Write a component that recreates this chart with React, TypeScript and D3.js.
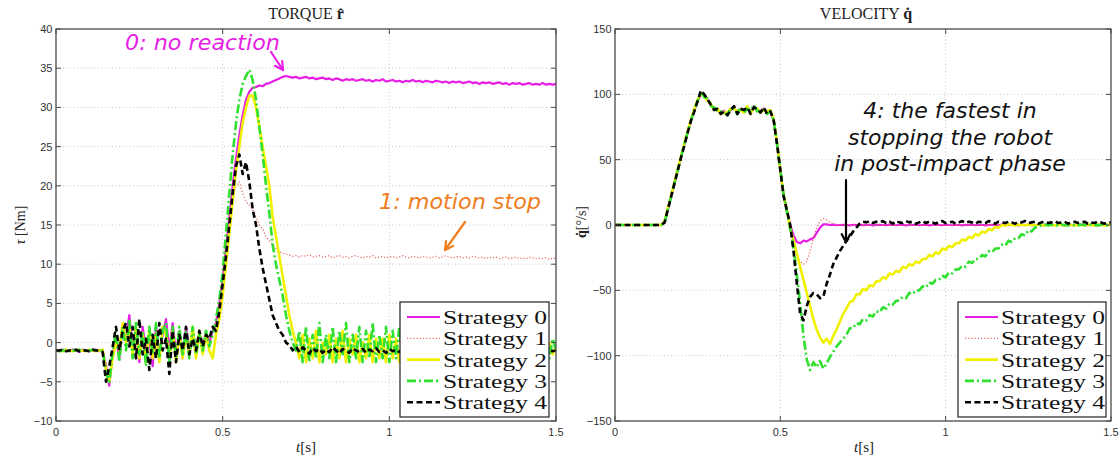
import React from "react";
import * as d3 from "d3";

// ---------- data ----------
const SAMPLE_DT = 0.01; // seconds between samples (151 samples: 0 .. 1.5 s)
const X_TICKS = [0, 0.5, 1, 1.5];
const TORQUE_TICKS = [-10, -5, 0, 5, 10, 15, 20, 25, 30, 35, 40];
const VELOCITY_TICKS = [-150, -100, -50, 0, 50, 100, 150];
const STRATEGIES = ["Strategy 0", "Strategy 1", "Strategy 2", "Strategy 3", "Strategy 4"];

// Torque [Nm]
const torqueS0 = [
  -1.0, -1.1, -0.9, -1.0, -1.1, -0.9, -1.0, -1.2, -0.9, -1.0,
  -1.1, -1.0, -0.9, -1.1, -1.0, -3.0, -5.5, -1.5, 0.5, -2.0,
  2.0, 0.5, 3.5, -1.0, 1.5, -2.5, 2.0, -1.0, 0.5, -3.0,
  2.0, -1.5, 1.0, 3.0, -1.0, 2.5, -1.5, 1.5, -2.0, 2.0,
  -1.0, 1.5, -1.0, 1.0, -0.5, 1.0, 0.0, 1.5, 2.5, 5.0,
  8.0, 12.0, 16.0, 20.0, 23.5, 26.5, 29.0, 31.0, 32.0, 32.5,
  32.6, 32.8, 32.7, 33.0, 33.1, 33.3, 33.5, 33.7, 33.9, 34.0,
  33.9, 33.8, 33.9, 33.7, 33.8, 33.9, 33.7, 33.8, 33.6, 33.7,
  33.8, 33.6, 33.7, 33.5, 33.7, 33.6, 33.4, 33.6, 33.5, 33.6,
  33.4, 33.5, 33.6, 33.4, 33.5, 33.3, 33.5, 33.4, 33.6, 33.3,
  33.4, 33.5, 33.3, 33.4, 33.2, 33.4, 33.3, 33.5, 33.3, 33.4,
  33.2, 33.4, 33.3, 33.2, 33.4, 33.3, 33.2, 33.3, 33.1, 33.3,
  33.2, 33.3, 33.1, 33.2, 33.3, 33.1, 33.2, 33.0, 33.2, 33.1,
  33.2, 33.0, 33.1, 33.2, 33.0, 33.1, 32.9, 33.1, 33.0, 33.1,
  32.9, 33.0, 33.1, 32.9, 33.0, 32.9, 33.1, 32.9, 33.0, 32.9,
  33.0,
];
const torqueS1 = [
  -1.0, -0.9, -1.1, -1.0, -0.9, -1.1, -1.0, -0.9, -1.1, -1.0,
  -1.0, -1.1, -0.9, -1.0, -1.1, -2.5, -4.5, -1.0, 1.0, -1.5,
  1.5, 1.0, 2.5, -0.5, 1.0, -2.0, 1.5, -0.5, 1.0, -2.0,
  1.5, -1.0, 1.5, 2.0, -0.5, 2.0, -1.0, 1.0, -1.5, 1.5,
  -0.5, 1.0, -1.0, 1.5, 0.0, 0.5, 0.5, 1.5, 2.5, 5.0,
  8.5, 12.5, 16.0, 18.5, 20.0, 20.5, 19.0, 18.0, 17.5, 17.0,
  16.0, 15.0, 14.5, 13.5, 13.0, 12.5, 12.0, 11.6, 11.4, 11.3,
  11.2, 11.0, 11.1, 10.9, 11.1, 11.0, 11.2, 10.9, 11.0, 11.1,
  10.9, 11.0, 11.1, 10.8, 11.0, 11.1, 10.9, 11.0, 10.8, 11.0,
  11.1, 10.9, 10.8, 11.0, 10.9, 11.1, 10.8, 10.9, 11.0, 10.8,
  10.9, 11.0, 10.8, 10.9, 11.1, 10.9, 10.8, 11.0, 10.9, 10.8,
  11.0, 10.9, 10.8, 10.9, 11.0, 10.8, 10.9, 11.1, 10.9, 10.8,
  10.9, 11.0, 10.8, 10.9, 10.8, 11.0, 10.9, 10.8, 10.9, 10.7,
  10.9, 10.8, 10.9, 10.7, 10.8, 10.9, 10.7, 10.8, 10.9, 10.7,
  10.8, 10.7, 10.9, 10.8, 10.7, 10.8, 10.7, 10.8, 10.6, 10.8,
  10.7,
];
const torqueS2 = [
  -1.0, -1.0, -1.1, -0.9, -1.0, -1.1, -0.9, -1.0, -1.0, -1.1,
  -0.9, -1.0, -1.1, -1.0, -0.9, -3.5, -5.0, -2.0, 0.0, -1.0,
  2.5, 0.0, 2.0, -1.5, 2.0, -2.0, 1.0, -2.5, 1.5, -2.0,
  1.0, -2.5, 2.0, 1.0, -2.0, 1.5, -2.5, 1.0, -2.0, 1.0,
  -1.5, 2.0, -2.0, 1.5, -1.5, 1.0, -1.0, -2.0, 1.0, 3.0,
  6.0, 10.0, 14.0, 18.0, 22.0, 25.0, 28.0, 30.0, 31.5, 31.5,
  30.0, 27.5, 25.0, 22.5, 20.0, 16.0, 13.5, 11.0, 8.5, 6.0,
  3.5, 1.5, 0.0, -2.0, 1.0, -2.5, 0.5, -2.0, 1.5, -2.5,
  0.0, -1.5, 1.0, -2.5, 0.5, -2.0, 1.5, -2.5, 0.5, -1.5,
  1.0, -2.5, 0.0, -2.0, 1.0, -2.5, 0.5, -2.0, 0.5, -2.5,
  1.0, -2.0, 0.5, -2.5, 0.0, -2.0, 1.0, -2.5, 0.5, -1.5,
  0.5, -2.5, 1.0, -2.0, 0.0, -2.5, 0.5, -2.0, 1.0, -2.0,
  0.0, -2.5, 0.5, -2.0, 0.5, -2.5, 0.0, -1.5, 0.5, -2.5,
  0.5, -2.0, 0.0, -2.0, 0.5, -2.5, 0.5, -2.0, 0.0, -2.0,
  0.5, -2.5, 0.0, -2.0, 0.5, -2.0, 0.0, -1.5, 0.0, -1.5,
  -0.5,
];
const torqueS3 = [
  -1.0, -1.1, -1.0, -0.9, -1.1, -1.0, -1.0, -0.9, -1.1, -1.0,
  -1.0, -0.9, -1.0, -1.1, -1.0, -4.0, -5.0, -1.0, 1.5, -2.5,
  2.0, -1.0, 3.0, -2.0, 2.5, -1.5, 1.5, -3.0, 2.0, -1.5,
  2.5, -2.0, 1.5, 2.5, -2.5, 2.0, -2.0, 2.0, -1.5, 1.5,
  -2.0, 2.0, -1.5, 1.0, -1.0, 1.5, -0.5, 1.0, 3.0, 5.5,
  9.0, 14.0, 19.0, 24.0, 28.0, 31.0, 33.0, 34.0, 34.8, 33.5,
  31.0, 27.5, 24.0, 20.0, 16.5, 12.5, 10.0, 8.0, 6.0, 3.5,
  1.5, 0.0, -1.0, 1.5, -2.5, 2.0, -2.5, 1.0, -2.0, 2.5,
  -2.5, 1.0, -2.0, 2.0, -2.5, 1.5, -1.5, 2.5, -2.5, 1.0,
  -2.0, 2.0, -2.5, 1.5, -2.0, 2.5, -2.5, 1.0, -2.0, 2.0,
  -2.5, 1.5, -2.0, 2.0, -2.5, 1.0, -2.0, 2.5, -2.0, 1.5,
  -2.5, 2.0, -2.0, 1.0, -2.5, 2.0, -1.5, 1.5, -2.5, 2.0,
  -2.0, 1.5, -2.5, 1.0, -2.0, 2.0, -2.5, 1.5, -2.0, 1.0,
  -2.5, 1.5, -2.0, 2.0, -2.0, 1.0, -2.5, 1.5, -2.0, 1.0,
  -2.0, 1.5, -2.5, 1.0, -2.0, 1.5, -1.5, 1.0, -2.0, 0.5,
  -1.0,
];
const torqueS4 = [
  -1.0, -1.0, -0.9, -1.1, -1.0, -1.0, -0.9, -1.1, -1.0, -1.0,
  -1.1, -0.9, -1.0, -1.0, -1.2, -5.0, -3.0, -0.5, 2.0, -1.0,
  1.5, 2.5, -0.5, 2.0, -2.0, 3.0, -1.5, 0.5, -3.5, 1.0,
  -2.0, 2.5, -1.0, 0.5, -4.0, 1.5, -2.5, 1.0, -1.0, 2.0,
  -1.5, 0.5, -1.0, 1.5, -0.5, 1.0, 0.5, 2.0, 1.5, 4.0,
  7.5, 11.0, 15.0, 19.0, 22.5, 24.0, 21.5, 23.0, 20.5, 17.0,
  15.0, 12.0, 9.5, 7.5, 5.5, 3.5, 2.5, 1.5, 1.0, 0.0,
  -0.3, -1.0, -0.5, -1.2, -0.6, -1.0, -1.4, -0.7, -1.1, -0.8,
  -1.3, -0.9, -1.2, -0.6, -1.0, -1.4, -0.8, -1.1, -1.3, -0.7,
  -1.0, -1.2, -0.8, -1.3, -0.9, -1.1, -0.7, -1.2, -1.0, -1.3,
  -0.8, -1.1, -0.9, -1.2, -0.7, -1.0, -1.3, -0.9, -1.1, -0.8,
  -1.2, -0.9, -1.1, -0.7, -1.0, -1.2, -0.9, -1.1, -0.8, -1.2,
  -1.0, -0.8, -1.1, -0.9, -1.2, -1.0, -0.8, -1.1, -0.9, -1.0,
  -1.2, -0.8, -1.0, -1.1, -0.9, -1.2, -0.8, -1.0, -1.1, -0.9,
  -1.0, -0.8, -1.1, -0.9, -1.0, -1.2, -0.8, -1.0, -0.9, -1.1,
  -1.0,
];

// Velocity [deg/s]
const velocityS0 = [
  0, 0, 0, 0, 0, 0, 0, 0, 0, 0,
  0, 0, 0, 0, 0, 2, 12, 22, 32, 42,
  52, 62, 71, 80, 88, 95, 100, 99, 96, 92,
  89, 88, 86, 87, 85, 88, 90, 86, 89, 87,
  90, 86, 91, 88, 87, 89, 86, 87, 80, 62,
  42, 22, 11, 0, -8, -13, -14, -12, -12.5, -11,
  -10, -6, -2, 0.5, 0.5, 0, 0.3, -0.2, 0, 0.2,
  0, -0.3, 0.2, 0, 0.3, -0.2, 0, 0.2, -0.3, 0,
  0.2, 0, -0.2, 0.3, 0, -0.2, 0.2, 0, -0.3, 0.2,
  0, 0.3, -0.2, 0, 0.2, -0.3, 0, 0.2, 0, -0.2,
  0.3, 0, -0.2, 0.2, 0, -0.3, 0.2, 0, 0.3, -0.2,
  0, 0.2, -0.3, 0, 0.2, 0, -0.2, 0.3, 0, -0.2,
  0.2, 0, -0.3, 0.2, 0, 0.3, -0.2, 0, 0.2, -0.3,
  0, 0.2, 0, -0.2, 0.3, 0, -0.2, 0.2, 0, -0.3,
  0.2, 0, 0.3, -0.2, 0, 0.2, -0.3, 0, 0.2, 0,
  0,
];
const velocityS1 = [
  0, 0, 0, 0, 0, 0, 0, 0, 0, 0,
  0, 0, 0, 0, 0, 2, 11, 21, 31, 41,
  51, 61, 70, 79, 87, 94, 99, 100, 95, 91,
  90, 87, 85, 88, 86, 87, 91, 85, 88, 88,
  89, 87, 90, 87, 88, 90, 85, 86, 79, 61,
  42, 22, 10, -2, -12, -22, -28, -30, -28, -20,
  -10, -2, 3, 5, 4, 2, 1, 0.5, 0, 0.3,
  0, 0.2, -0.2, 0, 0.3, 0, -0.2, 0.2, 0, -0.3,
  0.2, 0, 0.3, -0.2, 0, 0.2, 0, -0.3, 0.2, 0,
  -0.2, 0.3, 0, -0.2, 0.2, 0, 0.3, -0.2, 0, 0.2,
  0, -0.3, 0.2, 0, 0.2, -0.2, 0, 0.3, 0, -0.2,
  0.2, 0, -0.3, 0.2, 0, 0.3, -0.2, 0, 0.2, 0,
  -0.2, 0.3, 0, -0.2, 0.2, 0, -0.3, 0.2, 0, 0.2,
  0, -0.2, 0.3, 0, -0.2, 0.2, 0, 0.3, -0.2, 0,
  0.2, -0.3, 0, 0.2, 0, -0.2, 0.3, 0, -0.2, 0.2,
  0,
];
const velocityS2 = [
  0, 0, 0, 0, 0, 0, 0, 0, 0, 0,
  0, 0, 0, 0, 0, 3, 13, 23, 33, 43,
  53, 63, 72, 81, 89, 96, 101, 98, 95, 93,
  88, 89, 85, 86, 86, 89, 89, 87, 88, 86,
  91, 85, 90, 89, 86, 88, 87, 88, 81, 63,
  42, 23, 11, -3, -12, -22, -32, -42, -52, -62,
  -72, -80, -86, -90, -87, -91, -85, -80, -74, -68,
  -64, -59, -58, -53, -53, -49, -50, -46, -47, -43,
  -43, -40, -41, -37, -38, -35, -36, -32, -33, -30,
  -31, -28, -29, -26, -26, -23, -24, -21, -22, -18,
  -19, -16, -17, -14, -14, -11, -12, -9, -10, -7,
  -8, -5, -6, -3, -4, -1.5, -2, 0, -0.5, 0.5,
  0, -0.4, 0.3, 0, -0.3, 0.4, 0, -0.3, 0.3, 0,
  -0.4, 0.3, 0, -0.3, 0.4, 0, -0.3, 0.3, 0, -0.4,
  0.3, 0, -0.3, 0.4, 0, -0.3, 0.3, 0, -0.4, 0.3,
  0,
];
const velocityS3 = [
  0, 0, 0, 0, 0, 0, 0, 0, 0, 0,
  0, 0, 0, 0, 0, 2, 12, 22, 32, 42,
  52, 62, 71, 80, 88, 95, 102, 98, 97, 91,
  90, 87, 87, 86, 84, 89, 89, 85, 90, 86,
  89, 87, 92, 87, 88, 88, 85, 87, 80, 62,
  42, 23, 10, -3, -18, -38, -60, -85, -103, -111,
  -105, -109, -104, -110, -106, -101, -97, -93, -90, -87,
  -84, -79, -79, -75, -76, -72, -73, -69, -70, -66,
  -67, -63, -64, -60, -61, -58, -58, -55, -56, -52,
  -53, -50, -50, -47, -48, -44, -45, -42, -42, -39,
  -40, -36, -37, -34, -34, -31, -32, -28, -29, -26,
  -26, -23, -24, -20, -21, -18, -18, -15, -16, -12,
  -13, -10, -10, -7, -8, -4, -5, -2, -1.5, 0,
  0.4, -0.3, 0.3, 0, -0.4, 0.3, 0, -0.3, 0.4, 0,
  -0.3, 0.3, 0, -0.4, 0.3, 0, -0.3, 0.4, 0, -0.3,
  0,
];
const velocityS4 = [
  0, 0, 0, 0, 0, 0, 0, 0, 0, 0,
  0, 0, 0, 0, 0, 2, 12, 22, 32, 42,
  52, 61, 71, 80, 87, 95, 103, 100, 96, 92,
  88, 89, 85, 87, 84, 88, 91, 85, 89, 88,
  90, 85, 90, 89, 86, 90, 85, 87, 80, 62,
  42, 22, 11, 0, -20, -45, -68, -73, -62, -55,
  -52, -53, -56, -55, -45, -38, -30, -25, -20, -16,
  -12, -9, -5, -2, 1, 2.5, 2, 3, 1.5, 2.5,
  2, 3, 1.5, 2.5, 1, 3, 2, 1.5, 3, 2,
  2.5, 1, 2, 3, 1.5, 2.5, 2, 1, 2.5, 3,
  1.5, 2, 2.5, 1, 2, 3, 1.5, 2.5, 2, 1,
  2.5, 2, 1.5, 3, 2, 1, 2.5, 2, 1.5, 2.5,
  2, 1, 2.5, 2, 3, 1.5, 2, 2.5, 1, 2,
  2.5, 1.5, 2, 3, 1.5, 2, 2.5, 1, 2, 2.5,
  1.5, 2, 2.5, 1, 2, 1.5, 2.5, 2, 1, 2,
  2,
];

const TORQUE_SERIES = [torqueS0, torqueS1, torqueS2, torqueS3, torqueS4];
const VELOCITY_SERIES = [velocityS0, velocityS1, velocityS2, velocityS3, velocityS4];

// ---------- styles ----------
const SERIES_STYLE = [
  { color: "#e61ee6", width: 2.2, dash: undefined as string | undefined },
  { color: "#e66a6a", width: 1.3, dash: "1.2,2" },
  { color: "#f0f000", width: 2.6, dash: undefined },
  { color: "#2fe02f", width: 2.6, dash: "9,3,2,3" },
  { color: "#000000", width: 2.6, dash: "6,3.5" },
];

const SERIF = "'Liberation Serif', 'Times New Roman', serif";
const SANS = "'Liberation Sans', Arial, sans-serif";
const NOTE = "'DejaVu Sans', Verdana, sans-serif";

type Box = { x0: number; x1: number; y0: number; y1: number };

function Arrow({ x1, y1, x2, y2, color }: { x1: number; y1: number; x2: number; y2: number; color: string }) {
  const ang = Math.atan2(y2 - y1, x2 - x1);
  const L = 9;
  const a = 0.5;
  const p1 = [x2 - L * Math.cos(ang - a), y2 - L * Math.sin(ang - a)];
  const p2 = [x2 - L * Math.cos(ang + a), y2 - L * Math.sin(ang + a)];
  return (
    <g stroke={color} strokeWidth={2.2} fill="none" strokeLinecap="round" strokeLinejoin="round">
      <line x1={x1} y1={y1} x2={x2} y2={y2} />
      <polyline points={`${p1[0]},${p1[1]} ${x2},${y2} ${p2[0]},${p2[1]}`} />
    </g>
  );
}

function Panel({
  id,
  box,
  domain,
  ticks,
  series,
  legend,
}: {
  id: string;
  box: Box;
  domain: [number, number];
  ticks: number[];
  series: number[][];
  legend: Box;
}) {
  const x = d3.scaleLinear().domain([0, 1.5]).range([box.x0, box.x1]);
  const y = d3.scaleLinear().domain(domain).range([box.y1, box.y0]);
  const line = d3
    .line<number>()
    .x((_, i) => x(i * SAMPLE_DT))
    .y((v) => y(v));
  const tickLen = 5;
  const fmt = (v: number) => String(v).replace("-", "\u2212");
  const rowH = 21.3;
  return (
    <g>
      <defs>
        <clipPath id={id}>
          <rect x={box.x0} y={box.y0} width={box.x1 - box.x0} height={box.y1 - box.y0} />
        </clipPath>
      </defs>
      {/* grid */}
      <g stroke="#c8c8c8" strokeWidth={1} strokeDasharray="1,2.5">
        {ticks
          .filter((t) => t !== domain[0] && t !== domain[1])
          .map((t) => (
            <line key={"gy" + t} x1={box.x0} x2={box.x1} y1={y(t)} y2={y(t)} />
          ))}
        {X_TICKS.filter((t) => t > 0 && t < 1.5).map((t) => (
          <line key={"gx" + t} x1={x(t)} x2={x(t)} y1={box.y0} y2={box.y1} />
        ))}
      </g>
      {/* series */}
      <g clipPath={`url(#${id})`} fill="none" strokeLinejoin="round">
        {series.map((s, k) => (
          <path
            key={k}
            d={line(s) || ""}
            stroke={SERIES_STYLE[k].color}
            strokeWidth={SERIES_STYLE[k].width}
            strokeDasharray={SERIES_STYLE[k].dash}
          />
        ))}
      </g>
      {/* box and ticks */}
      <rect
        x={box.x0}
        y={box.y0}
        width={box.x1 - box.x0}
        height={box.y1 - box.y0}
        fill="none"
        stroke="#4a4a4a"
        strokeWidth={1.3}
      />
      <g stroke="#4a4a4a" strokeWidth={1}>
        {ticks.map((t) => (
          <g key={"ty" + t}>
            <line x1={box.x0} x2={box.x0 + tickLen} y1={y(t)} y2={y(t)} />
            <line x1={box.x1} x2={box.x1 - tickLen} y1={y(t)} y2={y(t)} />
          </g>
        ))}
        {X_TICKS.map((t) => (
          <g key={"tx" + t}>
            <line x1={x(t)} x2={x(t)} y1={box.y1} y2={box.y1 - tickLen} />
            <line x1={x(t)} x2={x(t)} y1={box.y0} y2={box.y0 + tickLen} />
          </g>
        ))}
      </g>
      <g fontFamily={SANS} fontSize={11} fill="#333">
        {ticks.map((t) => (
          <text key={"ly" + t} x={box.x0 - 3.5} y={y(t) + 4} textAnchor="end">
            {fmt(t)}
          </text>
        ))}
        {X_TICKS.map((t) => (
          <text key={"lx" + t} x={x(t)} y={box.y1 + 15} textAnchor="middle">
            {String(t)}
          </text>
        ))}
      </g>
      {/* legend */}
      <rect
        x={legend.x0}
        y={legend.y0}
        width={legend.x1 - legend.x0}
        height={legend.y1 - legend.y0}
        fill="#fff"
        stroke="#222"
        strokeWidth={1.2}
      />
      {STRATEGIES.map((name, k) => {
        const cy = legend.y0 + 15 + k * rowH;
        return (
          <g key={name}>
            <line
              x1={legend.x0 + 7}
              x2={legend.x0 + 40}
              y1={cy}
              y2={cy}
              stroke={SERIES_STYLE[k].color}
              strokeWidth={SERIES_STYLE[k].width}
              strokeDasharray={SERIES_STYLE[k].dash}
            />
            <text
              x={legend.x0 + 43}
              y={cy + 7}
              fontFamily={SERIF}
              fontSize={19.5}
              fill="#111"
              textLength={104}
              lengthAdjust="spacingAndGlyphs"
            >
              {name}
            </text>
          </g>
        );
      })}
    </g>
  );
}

export default function App() {
  const left: Box = { x0: 56, x1: 556, y0: 29, y1: 421 };
  const right: Box = { x0: 615, x1: 1111, y0: 29, y1: 421 };
  return (
    <svg
      width={1120}
      height={458}
      viewBox="0 0 1120 458"
      style={{ position: "absolute", left: 0, top: 0, background: "#fff" }}
    >
      <rect x={0} y={0} width={1120} height={458} fill="#fff" />
      {/* titles */}
      <text x={306} y={19} textAnchor="middle" fontFamily={SERIF} fontSize={16} fill="#222">
        TORQUE <tspan fontWeight="bold">r&#770;</tspan>
      </text>
      <text x={866} y={19} textAnchor="middle" fontFamily={SERIF} fontSize={16} fill="#222">
        VELOCITY <tspan fontWeight="bold">q&#775;</tspan>
      </text>

      <Panel id="clipL" box={left} domain={[-10, 40]} ticks={TORQUE_TICKS} series={TORQUE_SERIES}
        legend={{ x0: 400, x1: 549, y0: 302, y1: 417 }} />
      <Panel id="clipR" box={right} domain={[-150, 150]} ticks={VELOCITY_TICKS} series={VELOCITY_SERIES}
        legend={{ x0: 958, x1: 1106, y0: 302, y1: 417 }} />

      {/* axis labels */}
      <text x={306} y={452} textAnchor="middle" fontFamily={SERIF} fontSize={15} fill="#222">
        <tspan fontStyle="italic">t</tspan>[s]
      </text>
      <text x={864} y={452} textAnchor="middle" fontFamily={SERIF} fontSize={15} fill="#222">
        <tspan fontStyle="italic">t</tspan>[s]
      </text>
      <text transform="translate(25,225) rotate(-90)" textAnchor="middle" fontFamily={SERIF} fontSize={14} fill="#222">
        <tspan fontStyle="italic">τ</tspan> [Nm]
      </text>
      <text transform="translate(586,222) rotate(-90)" textAnchor="middle" fontFamily={SERIF} fontSize={14} fill="#222">
        <tspan fontWeight="bold">q&#775;</tspan>[°/s]
      </text>

      {/* annotations */}
      <text x={125} y={50} fontFamily={NOTE} fontStyle="italic" fontSize={22} fill="#e61ee6"
        textLength={155} lengthAdjust="spacingAndGlyphs">
        0: no reaction
      </text>
      <Arrow x1={271} y1={52} x2={283} y2={70} color="#e61ee6" />

      <text x={379} y={209} fontFamily={NOTE} fontStyle="italic" fontSize={22} fill="#f07d1e"
        textLength={162} lengthAdjust="spacingAndGlyphs">
        1: motion stop
      </text>
      <Arrow x1={465} y1={222} x2={445} y2={250} color="#f07d1e" />

      <g fontFamily={NOTE} fontStyle="italic" fontSize={22} fill="#111" textAnchor="middle">
        <text x={950} y={118}>4: the fastest in</text>
        <text x={950} y={145}>stopping the robot</text>
        <text x={950} y={171}>in post-impact phase</text>
      </g>
      <Arrow x1={846} y1={180} x2={846} y2={242} color="#000" />
    </svg>
  );
}
